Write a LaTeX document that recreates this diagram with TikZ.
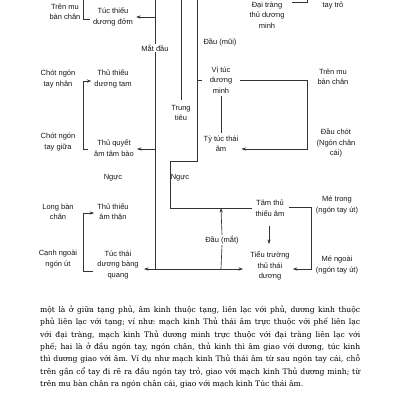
\documentclass[tikz,border=0pt]{standalone}
\usepackage{fontspec}
\setmainfont{Liberation Sans}
\newfontfamily\bodyfont{DejaVu Serif}
\usetikzlibrary{arrows.meta}
\frenchspacing
\begin{document}
\begin{tikzpicture}[x=1pt,y=-1pt,
  lbl/.style={font=\fontsize{7.5}{10.4}\selectfont, align=center, inner sep=3pt, text=black!90},
  onln/.style={lbl, fill=white, inner sep=1pt},
  ln/.style={line width=0.65pt, draw=black!80},
  arr/.style={ln, -{Stealth[length=4.5pt,width=3.2pt]}}]
\useasboundingbox (0,0) rectangle (400,400);
\clip (0,0) rectangle (400,400);
\fill[white] (0,0) rectangle (400,400);

% ---------- left column labels
\node[lbl] (trenmuL) at (65,12) {Trên mu\\bàn chân};
\node[lbl] (tucthieuduong) at (113,17) {Túc thiếu\\dương đởm};
\node[lbl] (chotnhan) at (58,79) {Chót ngón\\tay nhân};
\node[lbl] (thuthieuduong) at (113,79) {Thủ thiếu\\dương tam};
\node[lbl] (chotgiua) at (58,142) {Chót ngón\\tay giữa};
\node[lbl] (thuquyetam) at (114,148) {Thủ quyết\\âm tâm bào};
\node[lbl] (ngucL) at (113,178) {Ngực};
\node[lbl] (longban) at (58,212) {Long bàn\\chân};
\node[lbl] (thuthieuam) at (113,212) {Thủ thiếu\\âm thận};
\node[lbl] (canhngoai) at (58,259) {Cạnh ngoài\\ngón út};
\node[lbl] (tucthaiduong) at (118,265) {Túc thái\\dương bàng\\quang};

% ---------- middle labels
\node[onln] (matdau) at (155,48) {Mắt đầu};
\node[lbl] (trungtieu) at (181,113) {Trung\\tiêu};
\node[lbl] (ngucR) at (180,178) {Ngực};
\node[lbl] (daumui) at (220,42) {Đầu (mũi)};
\node[onln] (daumat) at (222,240) {Đầu (mắt)};

% ---------- right labels
\node[lbl] (daitrang) at (267,15) {Đại tràng\\thủ dương\\minh};
\node[lbl] (taytro) at (333,5) {tay trỏ};
\node[lbl] (vituc) at (221,80) {Vị túc\\dương\\minh};
\node[lbl] (trenmuR) at (333,77) {Trên mu\\bàn chân};
\node[lbl] (tytuc) at (221,144) {Tỳ túc thái\\âm};
\node[lbl] (dauchot) at (336,143) {Đầu chót\\(Ngón chân\\cái)};
\node[lbl] (tamthu) at (270,208) {Tâm thủ\\thiếu âm};
\node[lbl] (tieutruong) at (270,266) {Tiểu trường\\thủ thái\\dương};
\node[lbl] (metrong) at (337,205) {Mé trong\\(ngón tay út)};
\node[lbl] (mengoai) at (337,265) {Mé ngoài\\(ngón tay út)};

% ---------- junction coordinates
\coordinate (Ltop) at (155,-5);
\coordinate (Lbot) at (155,269);
\coordinate (jA) at (155,17);
\coordinate (jB) at (155,149);
\coordinate (jR) at (243,269);
\coordinate (jL) at (144,269);
\coordinate (Mtop) at (181,-5);
\coordinate (Mend) at (181,100);
\coordinate (Ntop) at (197,-5);
\coordinate (N1) at (197,80);
\coordinate (N1e) at (202,80);
\coordinate (N2) at (197,161);
\coordinate (N3) at (170,161);
\coordinate (N4) at (170,208);
\coordinate (up1) at (221,269);
\coordinate (up2) at (221,208);
\coordinate (V1) at (240,80);
\coordinate (V2) at (307,80);
\coordinate (V3) at (307,149);
\coordinate (T1) at (289,207);
\coordinate (T2) at (311,207);
\coordinate (T3) at (311,269);
\coordinate (D1) at (292,2);
\coordinate (D2) at (307,2);
\coordinate (D3) at (307,-5);
\coordinate (B1top) at (83,-5);
\coordinate (B1) at (83,19);
\coordinate (B2a) at (88,149);
\coordinate (B2b) at (83,149);
\coordinate (B2c) at (83,81);
\coordinate (B3a) at (93,271);
\coordinate (B3b) at (83,271);
\coordinate (B3c) at (83,213);
\coordinate (tdA) at (269,226);
\coordinate (tdB) at (269,244);

% ---------- left trunk
\draw[ln] (Ltop) -- (matdau.north);
\draw[ln] (matdau.south) -- (Lbot);
\draw[arr] (jA) -- (jA -| tucthieuduong.east);
\draw[arr] (jB) -- (jB -| thuquyetam.east);
\draw[arr] (Lbot) -- (jL);
\draw[arr] (Lbot) -- (jR);
\draw[ln] (up1) -- (daumat.south);
\draw[arr] (daumat.north) -- (up2);

% ---------- middle trunks
\draw[ln] (Mtop) -- (Mend);
\draw[ln] (Ntop) -- (N2) -- (N3) -- (N4) -- (N4 -| tamthu.west);
\draw[ln] (N1) -- (N1e);

% ---------- right side
\draw[arr] (V1) -- (V2) -- (V3) -- (V3 -| tytuc.east);
\draw[ln] (vituc.south) -- (tytuc.north);
\draw[arr] (T1) -- (T2) -- (T3) -- (T3 -| tieutruong.east);
\draw[arr] (tdA) -- (tdB);
\draw[ln] (D1) -- (D2) -- (D3);

% ---------- left brackets
\draw[ln] (B1top) -- (B1) -- (B1 -| tucthieuduong.west);
\draw[arr] (B2a) -- (B2b) -- (B2c) -- (B2c -| thuthieuduong.west);
\draw[arr] (B3a) -- (B3b) -- (B3c) -- (B3c -| thuthieuam.west);

% ---------- body text
\node[anchor=base west, inner sep=0pt, text width=320pt, align=justify,
      font=\bodyfont\fontsize{7.6}{12.3}\selectfont, text=black] (body) at (40,312.5)
{một là ở giữa tạng phủ, âm kinh thuộc tạng, liên lạc với phủ, dương kinh thuộc\linebreak
phủ liên lạc với tạng; ví như: mạch kinh Thủ thái âm trực thuộc với phế liên lạc\linebreak
với đại tràng, mạch kinh Thủ dương minh trực thuộc với đại tràng liên lạc với\linebreak
phế; hai là ở đầu ngón tay, ngón chân, thủ kinh thì âm giao với dương, túc kinh\linebreak
thì dương giao với âm. Ví dụ như mạch kinh Thủ thái âm từ sau ngón tay cái, chỗ\linebreak
trên gần cổ tay đi rẽ ra đầu ngón tay trỏ, giao với mạch kinh Thủ dương minh; từ\linebreak
trên mu bàn chân ra ngón chân cái, giao với mạch kinh Túc thái âm.};
\end{tikzpicture}
\end{document}
